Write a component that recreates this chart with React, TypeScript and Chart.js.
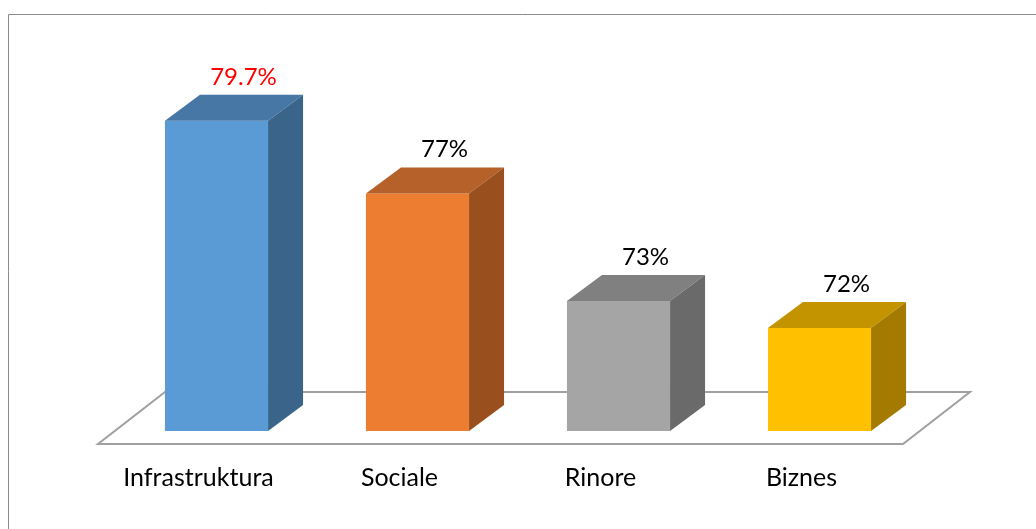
import React, { useEffect, useRef } from 'react';
import { Chart, registerables } from 'chart.js';

Chart.register(...registerables);

const categories = ['Infrastruktura', 'Sociale', 'Rinore', 'Biznes'];
const values = [79.7, 77, 73, 72];
const valueLabels = ['79.7%', '77%', '73%', '72%'];
const frontColors = ['#5B9BD5', '#ED7D31', '#A5A5A5', '#FFC000'];
const topColors = ['#4777A4', '#B6602A', '#808080', '#C49300'];
const sideColors = ['#3A6489', '#9A4F1F', '#6A6A6A', '#A47B00'];
const labelColors = ['#FF0000', '#000000', '#000000', '#000000'];

const FONT = 'Lato, "Open Sans", sans-serif';
const DX = 35;
const DY = 26;

const threeD = {
  id: 'threeD',
  beforeDraw(chart: any) {
    const ctx = chart.ctx;
    ctx.save();
    ctx.strokeStyle = '#8C8C8C';
    ctx.lineWidth = 1;
    ctx.beginPath();
    ctx.moveTo(8.5, chart.height);
    ctx.lineTo(8.5, 14.5);
    ctx.lineTo(chart.width, 14.5);
    ctx.stroke();
    ctx.restore();
  },
  beforeDatasetsDraw(chart: any) {
    const ctx = chart.ctx;
    const { left, right, bottom } = chart.chartArea;
    ctx.save();
    ctx.fillStyle = '#FFFFFF';
    ctx.strokeStyle = '#A0A0A0';
    ctx.lineWidth = 2;
    ctx.beginPath();
    ctx.moveTo(left - 18, bottom + 13);
    ctx.lineTo(right - 17, bottom + 13);
    ctx.lineTo(right + 50, bottom - 39);
    ctx.lineTo(left + 49, bottom - 39);
    ctx.closePath();
    ctx.fill();
    ctx.stroke();
    ctx.restore();
  },
  afterDatasetsDraw(chart: any) {
    const ctx = chart.ctx;
    const meta = chart.getDatasetMeta(0);
    const areaBottom = chart.chartArea.bottom;
    ctx.save();
    meta.data.forEach((bar: any, i: number) => {
      const props = bar.getProps(['x', 'y', 'base', 'width'], true);
      const { x, y, width } = props;
      const base = Math.min(props.base, areaBottom);
      const l = x - width / 2;
      const r = x + width / 2;
      // top face
      ctx.fillStyle = topColors[i];
      ctx.beginPath();
      ctx.moveTo(l, y);
      ctx.lineTo(l + DX, y - DY);
      ctx.lineTo(r + DX, y - DY);
      ctx.lineTo(r, y);
      ctx.closePath();
      ctx.fill();
      // side face
      ctx.fillStyle = sideColors[i];
      ctx.beginPath();
      ctx.moveTo(r, y);
      ctx.lineTo(r + DX, y - DY);
      ctx.lineTo(r + DX, base - DY);
      ctx.lineTo(r, base);
      ctx.closePath();
      ctx.fill();
      // value label
      ctx.fillStyle = labelColors[i];
      ctx.font = `24px ${FONT}`;
      ctx.textAlign = 'center';
      ctx.textBaseline = 'alphabetic';
      ctx.fillText(valueLabels[i], x + 27, y - DY - 10);
    });
    ctx.restore();
  },
};

export default function App() {
  const canvasRef = useRef<HTMLCanvasElement | null>(null);

  useEffect(() => {
    const canvas = canvasRef.current;
    if (!canvas) return;
    const chart = new Chart(canvas, {
      type: 'bar',
      data: {
        labels: categories,
        datasets: [
          {
            data: values,
            backgroundColor: frontColors,
            borderWidth: 0,
            barPercentage: 0.513,
            categoryPercentage: 1,
          },
        ],
      },
      options: {
        responsive: false,
        animation: false,
        devicePixelRatio: 1,
        layout: { padding: { left: 116, right: 116, top: 5, bottom: 0 } },
        plugins: {
          legend: { display: false },
          tooltip: { enabled: false },
        },
        scales: {
          x: {
            grid: { display: false, drawTicks: false },
            border: { display: false },
            ticks: {
              color: '#000000',
              font: { family: FONT, size: 25 },
              padding: 32,
              labelOffset: -18,
            },
            afterFit: (scale: any) => {
              scale.height = 98;
            },
          },
          y: {
            display: false,
            beginAtZero: false,
            min: 68.17,
            max: 84,
          },
        },
      },
      plugins: [threeD],
    });
    return () => chart.destroy();
  }, []);

  return (
    <div style={{ position: 'absolute', left: 0, top: 0, width: 1036, height: 529, background: '#FFFFFF' }}>
      <canvas ref={canvasRef} width={1036} height={529} style={{ display: 'block' }} />
    </div>
  );
}
